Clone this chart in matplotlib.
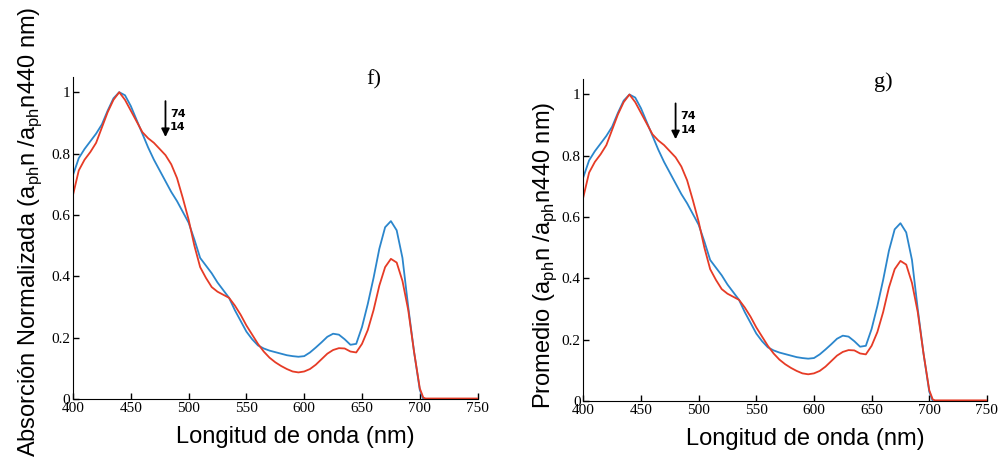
import matplotlib.pyplot as plt

# wavelength (nm) and normalized absorption
wl = [400, 405, 410, 415, 420, 425, 430, 435, 440, 445, 450, 455, 460, 465, 470,
      475, 480, 485, 490, 495, 500, 505, 510, 515, 520, 525, 530, 535, 540, 545,
      550, 555, 560, 565, 570, 575, 580, 585, 590, 595, 600, 605, 610, 615, 620,
      625, 630, 635, 640, 645, 650, 655, 660, 665, 670, 675, 680, 685, 690, 695,
      700, 703]
blue = [0.73, 0.785, 0.815, 0.84, 0.865, 0.895, 0.94, 0.98, 1.0, 0.99, 0.955,
        0.91, 0.865, 0.82, 0.78, 0.745, 0.71, 0.675, 0.645, 0.61, 0.575, 0.52,
        0.46, 0.435, 0.41, 0.38, 0.355, 0.33, 0.29, 0.255, 0.22, 0.195, 0.175,
        0.165, 0.158, 0.153, 0.148, 0.143, 0.14, 0.138, 0.14, 0.152, 0.168,
        0.185, 0.203, 0.213, 0.21, 0.195, 0.177, 0.18, 0.235, 0.31, 0.395,
        0.49, 0.56, 0.58, 0.55, 0.46, 0.30, 0.155, 0.03, 0.0]

wl_red = wl[:-1] + [703, 705, 750]
red = [0.665, 0.745, 0.78, 0.805, 0.835, 0.885, 0.935, 0.975, 1.0, 0.975, 0.94,
       0.905, 0.87, 0.85, 0.835, 0.815, 0.795, 0.765, 0.72, 0.655, 0.585, 0.50,
       0.43, 0.395, 0.365, 0.35, 0.34, 0.33, 0.305, 0.275, 0.24, 0.21, 0.18,
       0.155, 0.135, 0.12, 0.108, 0.098, 0.09, 0.087, 0.09, 0.098, 0.112, 0.13,
       0.148, 0.16, 0.166, 0.165, 0.155, 0.152, 0.18, 0.225, 0.29, 0.37, 0.43,
       0.457, 0.445, 0.385, 0.29, 0.155, 0.035, 0.005, 0.002, 0.002]

xticks = [400, 450, 500, 550, 600, 650, 700, 750]
yticks = [0, 0.2, 0.4, 0.6, 0.8, 1]
ytick_labels = ["0", "0.2", "0.4", "0.6", "0.8", "1"]

ylabels = [r"Absorción Normalizada (a$_\mathregular{ph}$n /a$_\mathregular{ph}$n440 nm)",
           r"Promedio (a$_\mathregular{ph}$n /a$_\mathregular{ph}$n440 nm)"]
panel_tags = ["f)", "g)"]

fig = plt.figure(figsize=(10.04, 4.63), dpi=100)
axes = [fig.add_axes([0.0727, 0.138, 0.403, 0.696]),
        fig.add_axes([0.581, 0.134, 0.402, 0.695])]

for ax, ylab, tag in zip(axes, ylabels, panel_tags):
    ax.plot(wl, blue, color="#2b86cc", lw=1.3)
    ax.plot(wl_red, red, color="#e63b26", lw=1.3)
    ax.set_xlim(400, 750)
    ax.set_ylim(0, 1.05)
    ax.spines["top"].set_visible(False)
    ax.spines["right"].set_visible(False)
    ax.set_xticks(xticks)
    ax.set_yticks(yticks)
    ax.set_yticklabels(ytick_labels)
    ax.tick_params(direction="in", length=4, width=1, pad=2)
    for lab in ax.get_xticklabels() + ax.get_yticklabels():
        lab.set_fontfamily("Liberation Serif")
        lab.set_fontsize(11)
    ax.set_xlabel("Longitud de onda (nm)", fontfamily="Liberation Sans",
                  fontsize=17, va="top")
    ax.xaxis.set_label_coords(0.55, -0.085)
    ax.set_ylabel(ylab, fontfamily="Liberation Sans", fontsize=17)
    ax.text(660, 1.04, tag, fontfamily="Liberation Serif", fontsize=16,
            ha="center", va="center")
    ax.annotate("", xy=(480, 0.845), xytext=(480, 0.98),
                arrowprops=dict(arrowstyle="-|>", color="black", lw=1.3,
                                mutation_scale=12))
    ax.text(484, 0.93, "74", fontfamily=["Liberation Sans Narrow", "DejaVu Sans"],
            fontsize=8, fontweight="bold", va="center")
    ax.text(484, 0.885, "14", fontfamily=["Liberation Sans Narrow", "DejaVu Sans"],
            fontsize=8, fontweight="bold", va="center")

axes[0].yaxis.set_label_coords(-0.072, 0.52)
axes[1].yaxis.set_label_coords(-0.06, 0.453)

fig.savefig("out.png", dpi=100)
